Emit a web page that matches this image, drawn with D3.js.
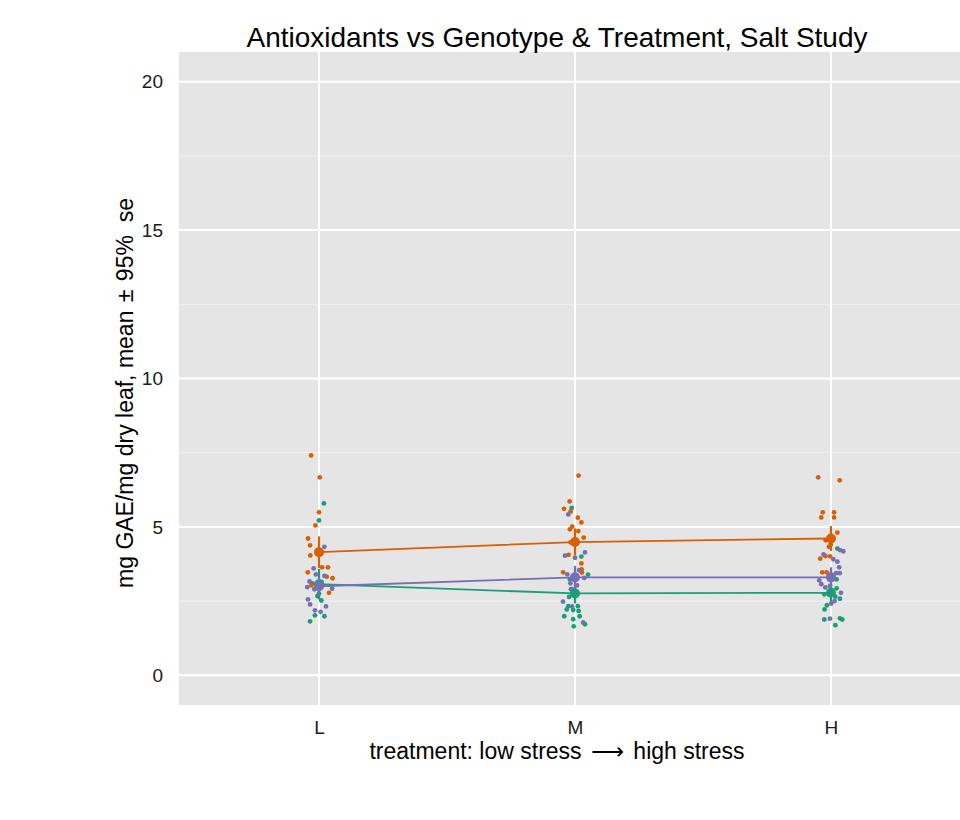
<!DOCTYPE html>
<html>
<head>
<meta charset="utf-8">
<script src="https://cdn.jsdelivr.net/npm/d3@7"></script>
<style>
  html, body { margin: 0; padding: 0; background: #fff; }
  svg { display: block; font-family: "Liberation Sans", Arial, sans-serif; }
</style>
</head>
<body>
<svg id="chart" width="960" height="820"></svg>
<script>
// Treatment levels along the x axis
const treatments = ["L", "M", "H"];
const yTicks = [0, 5, 10, 15, 20];
const yMinor = [2.5, 7.5, 12.5, 17.5];

// Genotype groups, in drawing order, with their colours
const genotypes = ["G1", "G2", "G3"];
const genoColors = ["#1b9e77", "#d95f02", "#7570b3"];

// Individual measurements per genotype: [treatment, jitter offset, mg GAE/mg]
const g1Points = [
  ["L", 0.019, 5.79], ["L", 0.000, 5.22], ["L", -0.026, 3.10], ["L", 0.010, 3.15],
  ["L", 0.000, 2.75], ["L", -0.006, 2.67], ["L", 0.009, 2.52], ["L", -0.016, 2.02],
  ["L", 0.021, 1.99], ["L", -0.035, 1.82],
  ["M", -0.013, 5.64], ["M", 0.025, 4.00], ["M", 0.051, 3.39], ["M", -0.020, 3.23],
  ["M", -0.013, 2.90], ["M", -0.023, 2.64], ["M", -0.026, 2.33], ["M", 0.011, 2.33],
  ["M", -0.032, 2.22], ["M", -0.007, 2.20], ["M", 0.014, 2.17], ["M", 0.018, 1.99],
  ["M", -0.042, 1.99], ["M", -0.007, 1.89], ["M", 0.039, 1.72], ["M", -0.005, 1.65],
  ["H", 0.025, 4.27], ["H", 0.022, 3.23], ["H", 0.022, 2.93], ["H", 0.004, 2.85],
  ["H", -0.026, 2.73], ["H", 0.017, 2.65], ["H", 0.035, 2.58], ["H", -0.016, 2.36],
  ["H", -0.025, 2.22], ["H", -0.026, 1.88], ["H", 0.035, 1.92], ["H", 0.044, 1.88],
  ["H", 0.017, 1.69]
];
const g2Points = [
  ["L", -0.031, 7.41], ["L", 0.003, 6.67], ["L", 0.000, 5.49], ["L", -0.014, 5.05],
  ["L", -0.043, 4.61], ["L", -0.035, 4.38], ["L", -0.004, 4.20], ["L", -0.034, 4.04],
  ["L", 0.012, 3.64], ["L", 0.035, 3.64], ["L", -0.044, 3.47], ["L", 0.030, 3.32],
  ["L", 0.053, 3.27], ["L", -0.030, 3.03], ["L", 0.039, 2.78],
  ["M", 0.014, 6.73], ["M", -0.021, 5.86], ["M", -0.043, 5.61], ["M", -0.017, 5.52],
  ["M", 0.011, 5.31], ["M", 0.025, 5.15], ["M", -0.011, 5.01], ["M", -0.020, 4.92],
  ["M", 0.013, 4.86], ["M", 0.034, 4.64], ["M", -0.018, 4.48], ["M", -0.025, 4.06],
  ["M", 0.025, 3.77], ["M", 0.026, 3.57], ["M", -0.046, 3.47], ["M", 0.027, 3.46],
  ["H", -0.050, 6.67], ["H", 0.034, 6.57], ["H", -0.032, 5.49], ["H", 0.012, 5.49],
  ["H", -0.038, 5.32], ["H", 0.012, 5.32], ["H", 0.025, 4.81], ["H", -0.021, 4.55],
  ["H", -0.001, 4.41], ["H", -0.008, 4.33], ["H", -0.022, 4.02], ["H", -0.042, 3.93],
  ["H", -0.004, 4.01], ["H", -0.034, 3.47], ["H", -0.017, 3.47]
];
const g3Points = [
  ["L", 0.021, 4.33], ["L", -0.021, 3.60], ["L", -0.012, 3.40], ["L", 0.021, 3.35],
  ["L", -0.037, 3.16], ["L", -0.046, 2.97], ["L", 0.051, 2.92], ["L", -0.018, 2.90],
  ["L", -0.043, 2.56], ["L", -0.035, 2.39], ["L", 0.027, 2.32], ["L", -0.016, 2.19],
  ["L", 0.006, 2.14],
  ["M", -0.026, 5.42], ["M", 0.039, 4.14], ["M", -0.039, 4.03], ["M", 0.000, 3.96],
  ["M", 0.016, 3.54], ["M", -0.030, 3.40], ["M", 0.036, 3.28], ["M", -0.018, 3.10],
  ["M", 0.008, 3.03], ["M", -0.016, 2.90], ["M", -0.047, 2.48], ["M", -0.011, 2.32],
  ["M", 0.032, 1.78],
  ["H", 0.035, 4.22], ["H", 0.048, 4.18], ["H", -0.029, 4.07], ["H", 0.009, 3.91],
  ["H", 0.025, 3.83], ["H", 0.032, 3.64], ["H", 0.020, 3.44], ["H", 0.034, 3.44],
  ["H", -0.046, 3.20], ["H", -0.038, 3.07], ["H", -0.022, 2.96], ["H", -0.004, 3.01],
  ["H", 0.039, 2.78], ["H", 0.014, 2.50], ["H", 0.001, 2.42], ["H", -0.004, 1.91]
];

// Group means and 95% half-widths, per genotype, for L, M, H
const g1Mean = [3.07, 2.76, 2.78];
const g2Mean = [4.15, 4.49, 4.61];
const g3Mean = [3.00, 3.30, 3.30];
const g1Ci = [0.52, 0.34, 0.30];
const g2Ci = [0.53, 0.46, 0.42];
const g3Ci = [0.30, 0.39, 0.34];

const series = [
  { points: g1Points, mean: g1Mean, ci: g1Ci },
  { points: g2Points, mean: g2Mean, ci: g2Ci },
  { points: g3Points, mean: g3Mean, ci: g3Ci }
];

const svg = d3.select("#chart");
const panel = { left: 179, right: 971, top: 52, bottom: 705 };

// Continuous position for the discrete treatment levels (L=1, M=2, H=3)
const x = d3.scaleLinear().domain([0.453, 3.547]).range([panel.left, panel.right]);
const y = d3.scaleLinear().domain([-1, 21]).range([panel.bottom, panel.top]);
const color = d3.scaleOrdinal().domain(genotypes).range(genoColors);
const xPos = t => x(treatments.indexOf(t) + 1);

// Panel background
svg.append("rect")
  .attr("x", panel.left).attr("y", panel.top)
  .attr("width", panel.right - panel.left).attr("height", panel.bottom - panel.top)
  .attr("fill", "#e5e5e5");

// Grid lines
svg.append("g").selectAll("line").data(yMinor).join("line")
  .attr("x1", panel.left).attr("x2", panel.right)
  .attr("y1", d => y(d)).attr("y2", d => y(d))
  .attr("stroke", "#f2f2f2").attr("stroke-width", 1);
svg.append("g").selectAll("line").data(yTicks).join("line")
  .attr("x1", panel.left).attr("x2", panel.right)
  .attr("y1", d => y(d)).attr("y2", d => y(d))
  .attr("stroke", "#ffffff").attr("stroke-width", 2);
svg.append("g").selectAll("line").data(treatments).join("line")
  .attr("x1", d => xPos(d)).attr("x2", d => xPos(d))
  .attr("y1", panel.top).attr("y2", panel.bottom)
  .attr("stroke", "#ffffff").attr("stroke-width", 2);

// Axes (labels only, no tick marks or domain line)
const yAxis = svg.append("g")
  .attr("transform", `translate(${panel.left},0)`)
  .call(d3.axisLeft(y).tickValues(yTicks).tickSize(0).tickPadding(16));
const xAxis = svg.append("g")
  .attr("transform", `translate(0,${panel.bottom})`)
  .call(d3.axisBottom(x).tickValues([1, 2, 3]).tickFormat(i => treatments[i - 1]).tickSize(0).tickPadding(16));
[yAxis, xAxis].forEach(a => {
  a.select(".domain").remove();
  a.selectAll("text").attr("font-size", 19).attr("fill", "#1a1a1a")
    .attr("font-family", "Liberation Sans, Arial, sans-serif");
});

// Jittered measurements
series.forEach((s, i) => {
  svg.append("g").selectAll("circle").data(s.points).join("circle")
    .attr("cx", d => x(treatments.indexOf(d[0]) + 1 + d[1]))
    .attr("cy", d => y(d[2]))
    .attr("r", 2.4)
    .attr("fill", color(genotypes[i]));
});

// Means joined by lines, with 95% intervals
const line = d3.line().x((d, j) => x(j + 1)).y(d => y(d));
series.forEach((s, i) => {
  const c = color(genotypes[i]);
  const g = svg.append("g");
  g.append("path").datum(s.mean).attr("d", line)
    .attr("fill", "none").attr("stroke", c).attr("stroke-width", 1.8);
  g.selectAll("line").data(s.mean).join("line")
    .attr("x1", (d, j) => x(j + 1)).attr("x2", (d, j) => x(j + 1))
    .attr("y1", (d, j) => y(d - s.ci[j])).attr("y2", (d, j) => y(d + s.ci[j]))
    .attr("stroke", c).attr("stroke-width", 2.2);
  g.selectAll("circle").data(s.mean).join("circle")
    .attr("cx", (d, j) => x(j + 1)).attr("cy", d => y(d))
    .attr("r", 5).attr("fill", c);
});

// Titles
svg.append("text")
  .attr("x", 557).attr("y", 47)
  .attr("text-anchor", "middle").attr("font-size", 28).attr("fill", "#000")
  .text("Antioxidants vs Genotype & Treatment, Salt Study");

const xTitle = svg.append("text")
  .attr("x", 557).attr("y", 759)
  .attr("text-anchor", "middle").attr("font-size", 23).attr("fill", "#000")
  .style("white-space", "pre");
xTitle.append("tspan").text("treatment: low stress ");
xTitle.append("tspan").attr("dx", 3).attr("font-family", "DejaVu Sans").attr("font-size", 23).text("\u27f6");
xTitle.append("tspan").attr("dx", 3).text(" high stress");

const yTitle = svg.append("text")
  .attr("transform", "translate(133,393) rotate(-90)")
  .attr("text-anchor", "middle").attr("font-size", 23).attr("fill", "#000")
  .style("white-space", "pre");
yTitle.append("tspan").text("mg GAE/mg dry leaf, mean ");
yTitle.append("tspan").attr("dx", 2).text("\u00b1");
yTitle.append("tspan").attr("dx", 2).text(" 95%  se");
</script>
</body>
</html>
